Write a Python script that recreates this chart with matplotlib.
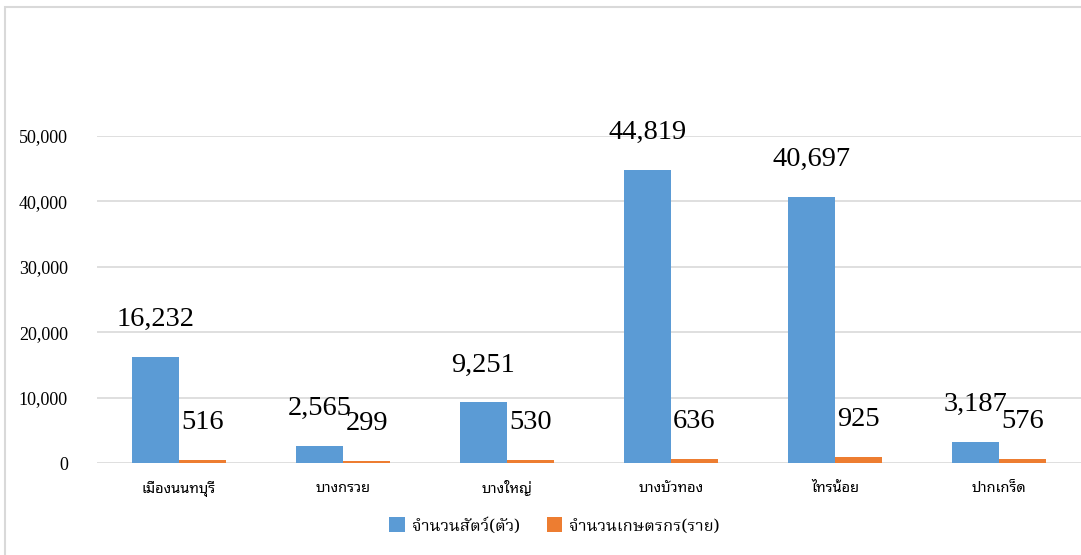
from matplotlib import pyplot as plt
from matplotlib.patches import Rectangle
import numpy as np

districts = ['เมืองนนทบุรี', 'บางกรวย', 'บางใหญ่', 'บางบัวทอง', 'ไทรน้อย', 'ปากเกร็ด']
animals = [16232, 2565, 9251, 44819, 40697, 3187]
farmers = [516, 299, 530, 636, 925, 576]
series_names = ['จำนวนสัตว์(ตัว)', 'จำนวนเกษตรกร(ราย)']
yticks = [0, 10000, 20000, 30000, 40000, 50000]

thai = ['Noto Sans Thai Looped', 'DejaVu Sans']
thai_serif = ['Noto Serif Thai', 'Liberation Serif']
serif = ['Liberation Serif', 'DejaVu Serif']
blue = '#5B9BD5'
orange = '#ED7D31'

fig = plt.figure(figsize=(10.81, 5.55), dpi=100)
ax = fig.add_axes([97 / 1081, 1 - 463 / 555, 984 / 1081, 327 / 555])

# light grey frame round the chart (cut at right / bottom like the screenshot)
fig.add_artist(Rectangle((5 / 1081, -0.1), 1.2, 1 - 7 / 555 + 0.1, transform=fig.transFigure,
                         fill=False, edgecolor='#d9d9d9', linewidth=1.5))

x = np.arange(len(districts))
w = 0.287
b1 = ax.bar(x - w / 2, animals, w, color=blue, label=series_names[0], zorder=3)
b2 = ax.bar(x + w / 2, farmers, w, color=orange, label=series_names[1], zorder=3)

for bars, vals in ((b1, animals), (b2, farmers)):
    for r, v in zip(bars, vals):
        ax.annotate(f'{v:,}', (r.get_x() + r.get_width() / 2, v), xytext=(0, 18),
                    textcoords='offset points', ha='center', va='bottom',
                    fontsize=20.5, family=serif, annotation_clip=False)

ax.set_xlim(-0.5, len(districts) - 0.5)
ax.set_ylim(0, 50000)
ax.set_yticks(yticks)
ax.set_yticklabels([f'{t:,}' for t in yticks], family=serif, fontsize=13)
ax.set_xticks(x)
ax.set_xticklabels(districts, family=thai, fontsize=10.5)
ax.tick_params(axis='y', length=0, pad=21)
ax.tick_params(axis='x', length=0, pad=13)
ax.grid(axis='y', color='#d9d9d9', linewidth=1.2, zorder=0)
for s in ax.spines.values():
    s.set_visible(False)

fig.legend(loc='center', bbox_to_anchor=(0.5 + 14 / 1081, 1 - 526 / 555), ncol=2, frameon=False,
           prop={'family': thai_serif, 'size': 12}, handlelength=0.95, handleheight=1.0,
           handletextpad=0.4, columnspacing=1.6)

fig.savefig('out.png', dpi=100)
